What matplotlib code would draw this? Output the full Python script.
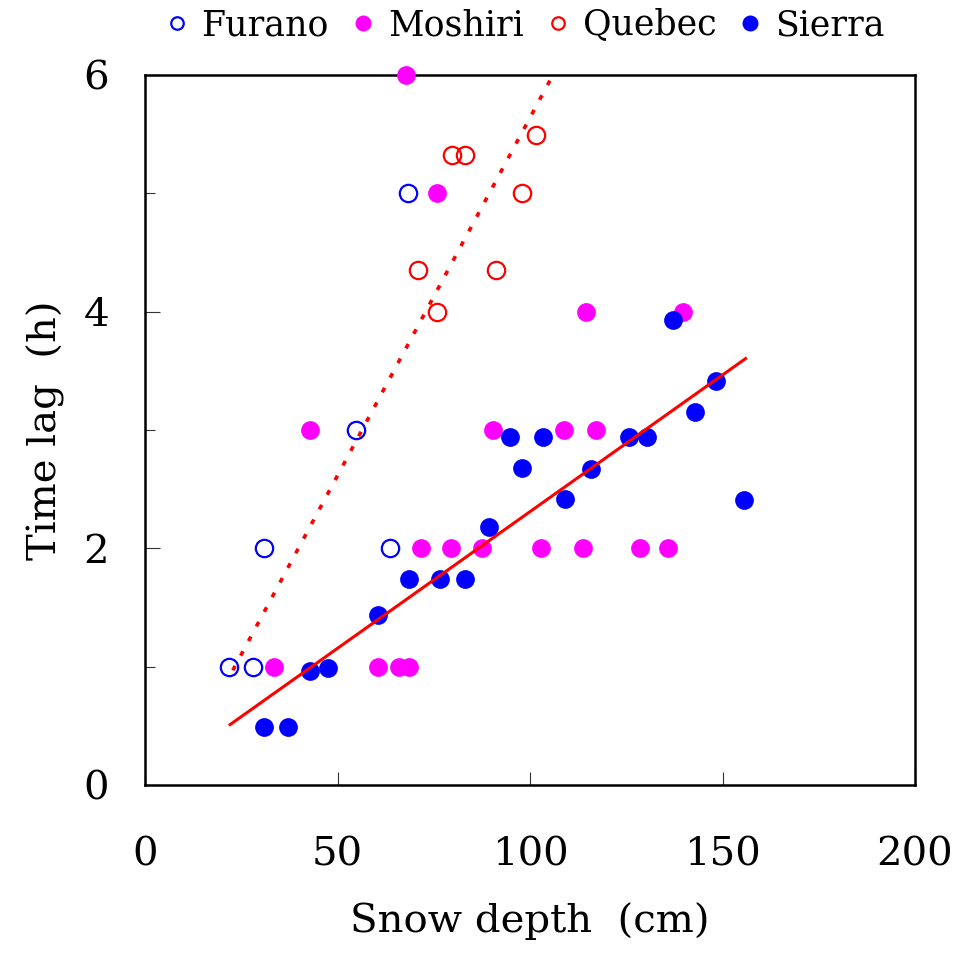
import numpy as np
import matplotlib
matplotlib.use('Agg')
import matplotlib.pyplot as plt
from matplotlib.lines import Line2D

plt.rcParams['font.family'] = ['DejaVu Serif']

# ---- data (snow depth cm, time lag h) ----
furano_x = [21.8, 28.1, 30.9, 54.8, 63.6, 68.3]
furano_y = [1.0, 1.0, 2.0, 3.0, 2.0, 5.0]

moshiri_x = [67.8, 75.8, 42.9, 33.5, 60.5, 66.0, 68.6, 71.7, 79.5, 87.5,
             90.4, 102.9, 113.8, 128.6, 135.8, 108.8, 117.1, 114.5, 139.7]
moshiri_y = [6.0, 5.0, 3.0, 1.0, 1.0, 1.0, 1.0, 2.0, 2.0, 2.0,
             3.0, 2.0, 2.0, 2.0, 2.0, 3.0, 3.0, 4.0, 4.0]

quebec_x = [75.8, 71.0, 91.2, 79.7, 83.1, 98.0, 101.6]
quebec_y = [4.0, 4.35, 4.35, 5.32, 5.32, 5.0, 5.49]

sierra_x = [30.9, 37.2, 42.9, 47.6, 60.6, 68.6, 76.6, 83.2, 89.4, 98.0,
            94.8, 103.5, 109.0, 115.8, 125.6, 130.5, 142.8, 148.3, 137.2, 155.7]
sierra_y = [0.49, 0.49, 0.96, 0.99, 1.44, 1.74, 1.74, 1.74, 2.18, 2.68,
            2.94, 2.94, 2.42, 2.67, 2.94, 2.94, 3.15, 3.41, 3.93, 2.41]

# linear fits: (slope, intercept, x range)
fit_solid = (0.0231, 0.0, [22.1, 156.0])
fit_dotted = (0.0605, -0.41, [22.8, 110.0])

# ---- figure ----
fig = plt.figure(figsize=(9.61, 9.55), dpi=100)
ax = fig.add_axes([145/961, 170/955, 770/961, 710/955])

ax.plot(furano_x, furano_y, 'o', mfc='none', mec='#0000ff', mew=1.6, ms=12.5,
        clip_on=False, zorder=3)
ax.plot(moshiri_x, moshiri_y, 'o', color='#ff00ff', ms=13.5, mec='none',
        clip_on=False, zorder=3)
ax.plot(quebec_x, quebec_y, 'o', mfc='none', mec='#ff0000', mew=1.6, ms=12.5,
        clip_on=False, zorder=3)
ax.plot(sierra_x, sierra_y, 'o', color='#0000ff', ms=13.5, mec='none',
        clip_on=False, zorder=3)

a, b, xr = fit_solid
xs = np.array(xr)
ax.plot(xs, a * xs + b, '-', color='#ff0000', lw=2.2, zorder=4)
a, b, xr = fit_dotted
xs = np.array(xr)
ax.plot(xs, a * xs + b, color='#ff0000', lw=2.6, ls=(0, (1.4, 3.2)), zorder=4)

ax.set_xlim(0, 200)
ax.set_ylim(0, 6)
ax.set_xticks([0, 50, 100, 150, 200])
ax.set_yticks([0, 2, 4, 6])
ax.set_yticks([1, 3, 5], minor=True)

for s in ax.spines.values():
    s.set_linewidth(1.8)

ax.tick_params(axis='x', direction='in', length=9.4, width=0.8,
               labelsize=29, pad=37, color='#333333')
ax.tick_params(axis='y', which='major', direction='in', length=10.8, width=0.8,
               labelsize=29, pad=26, color='#333333')
ax.tick_params(axis='y', which='minor', direction='in', length=7.2, width=0.8,
               color='#333333')

ax.set_xlabel('Snow depth  (cm)', fontsize=29, labelpad=21)
ax.set_ylabel('Time lag  (h)', fontsize=29, labelpad=13)

handles = [
    Line2D([], [], ls='none', marker='o', mfc='none', mec='#0000ff', mew=1.6, ms=9),
    Line2D([], [], ls='none', marker='o', color='#ff00ff', mec='none', ms=11.5),
    Line2D([], [], ls='none', marker='o', mfc='none', mec='#ff0000', mew=1.6, ms=9),
    Line2D([], [], ls='none', marker='o', color='#0000ff', mec='none', ms=11.5),
]
ax.legend(handles, ['Furano', 'Moshiri', 'Quebec', 'Sierra'], ncol=4,
          loc='lower center', bbox_to_anchor=(0.493, 1.0), frameon=False,
          fontsize=25, handlelength=0.7, handletextpad=0.37, columnspacing=0.63,
          borderaxespad=0.55)

fig.savefig('out.png', dpi=100)
